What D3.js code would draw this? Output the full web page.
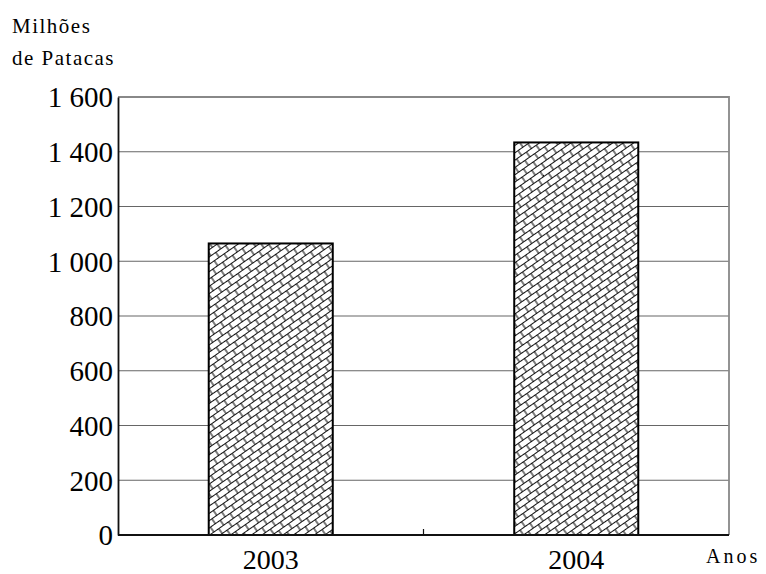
<!DOCTYPE html>
<html>
<head>
<meta charset="utf-8">
<script src="https://d3js.org/d3.v7.min.js"></script>
<style>
  body { margin: 0; background: #fff; }
  svg text { font-family: "Liberation Serif", "Times New Roman", serif !important; fill: #000; }
</style>
</head>
<body>
<svg id="chart" width="766" height="574"></svg>
<script>
(function() {
    // data
    var years = ["2003", "2004"]
    var values = [1065, 1434]
    var yTicks = [0, 200, 400, 600, 800, 1000, 1200, 1400, 1600]

    var margin = {left: 118, right: 37, top: 97, bottom: 39}
    var width = 766, height = 574
    var serif = "'Liberation Serif', 'Times New Roman', serif"
    var svg = d3.select("#chart")

    // tilted brick hatch like the original fill
    var defs = svg.append("defs")
    var pat = defs.append("pattern")
        .attr("id", "brick")
        .attr("patternUnits", "userSpaceOnUse")
        .attr("width", 12).attr("height", 12)
        .attr("patternTransform", "rotate(-35)")
    pat.append("rect").attr("width", 12).attr("height", 12).attr("fill", "#fff")
    pat.append("path")
        .attr("d", "M0,0.5H12 M2,0.5V6.5 M8,6.5V12.5 M0,6.5H12")
        .attr("fill", "none").attr("stroke", "#111").attr("stroke-width", 1.1)

    var x = d3.scaleBand().domain(years)
        .range([margin.left, width - margin.right])
        .paddingInner(0.594).paddingOuter(0.297)
    var y = d3.scaleLinear().domain([0, 1600])
        .range([height - margin.bottom, margin.top])

    // horizontal gridlines
    svg.append("g")
        .selectAll("line")
        .data(yTicks.slice(1, -1))
        .join("line")
        .attr("x1", margin.left).attr("x2", width - margin.right)
        .attr("y1", d => y(d)).attr("y2", d => y(d))
        .attr("stroke", "#666").attr("stroke-width", 1.2)

    // frame top + right
    svg.append("path")
        .attr("d", "M" + margin.left + "," + y(1600) + "H" + (width - margin.right) + "V" + y(0))
        .attr("fill", "none").attr("stroke", "#888").attr("stroke-width", 1.8)

    // bars
    svg.append("g")
        .selectAll("rect")
        .data(values)
        .join("rect")
        .attr("x", (d, i) => x(years[i]))
        .attr("width", x.bandwidth())
        .attr("y", d => y(d))
        .attr("height", d => y(0) - y(d))
        .attr("fill", "url(#brick)")
        .attr("stroke", "#000").attr("stroke-width", 2)

    // left axis
    var yAxis = d3.axisLeft(y).tickValues(yTicks).tickSize(0).tickPadding(5)
        .tickFormat(d => d3.format(",")(d).replace(",", " "))
    var ga = svg.append("g").attr("transform", "translate(" + margin.left + ",0)").call(yAxis)
    ga.attr("font-family", serif)
    ga.select(".domain").attr("stroke", "#111").attr("stroke-width", 1.8)
    ga.selectAll("text").style("font-family", serif).style("font-size", "29px").attr("dy", "0.34em")

    // bottom axis
    svg.append("line")
        .attr("x1", margin.left).attr("x2", width - margin.right)
        .attr("y1", y(0)).attr("y2", y(0))
        .attr("stroke", "#111").attr("stroke-width", 1.8)
    // middle tick between the two years
    var mid = (x("2003") + x.bandwidth() + x("2004")) / 2
    svg.append("line")
        .attr("x1", mid).attr("x2", mid)
        .attr("y1", y(0)).attr("y2", y(0) - 6)
        .attr("stroke", "#111").attr("stroke-width", 1.2)

    svg.append("g")
        .selectAll("text")
        .data(years)
        .join("text")
        .attr("x", d => x(d) + x.bandwidth() / 2)
        .attr("y", 569)
        .attr("text-anchor", "middle")
        .style("font-family", serif)
        .style("font-size", "28px")
        .text(d => d)

    svg.append("text").attr("x", 706).attr("y", 563)
        .style("font-family", serif)
        .style("font-size", "20px").style("letter-spacing", "3px")
        .text("Anos")

    svg.append("text").attr("x", 12).attr("y", 33)
        .style("font-family", serif)
        .style("font-size", "21px").style("letter-spacing", "1.5px")
        .text("Milhões")
    svg.append("text").attr("x", 12).attr("y", 65)
        .style("font-family", serif)
        .style("font-size", "21px").style("letter-spacing", "1.5px")
        .text("de Patacas")
})();
</script>
</body>
</html>
